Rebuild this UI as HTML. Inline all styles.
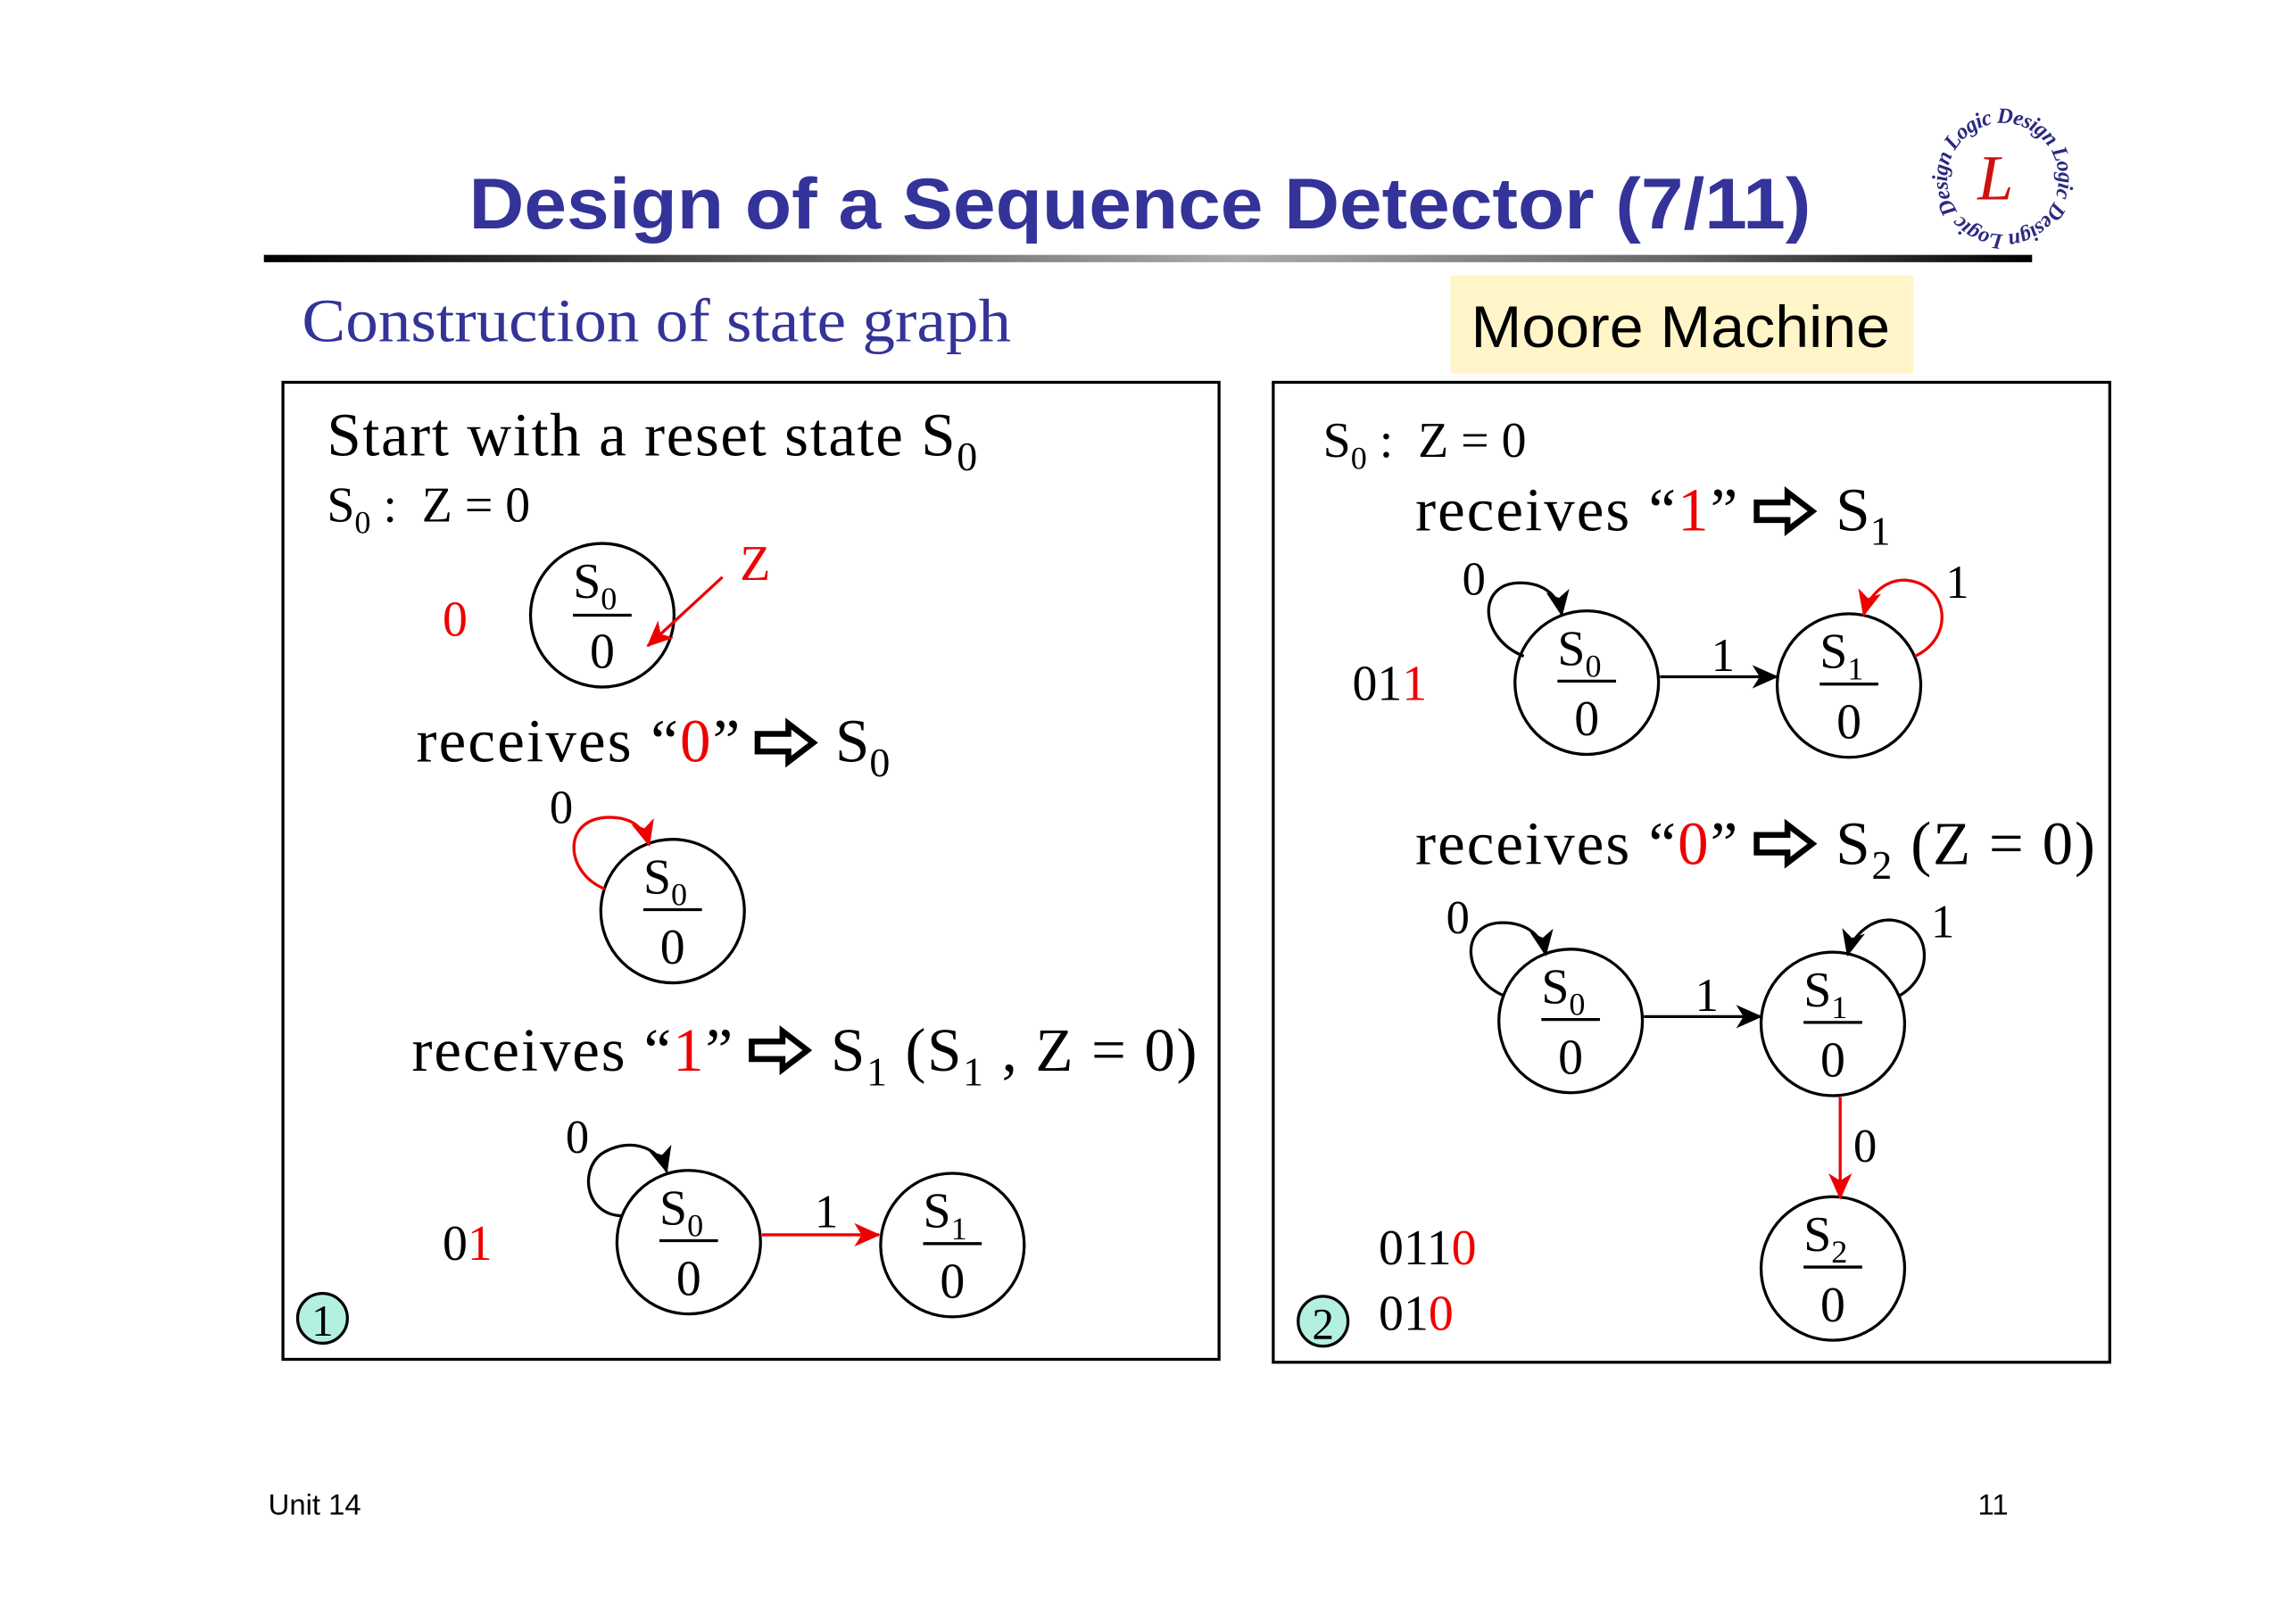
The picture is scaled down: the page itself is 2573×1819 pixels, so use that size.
<!DOCTYPE html>
<html><head><meta charset="utf-8"><style>
html,body{margin:0;padding:0;background:#fff;}
svg{display:block;}
.t{font-family:"Liberation Serif",serif;}
</style></head><body>
<svg width="2573" height="1819" viewBox="0 0 1567 1108" xmlns="http://www.w3.org/2000/svg" class="t">
<defs>
<linearGradient id="g" x1="0" x2="1" y1="0" y2="0">
<stop offset="0" stop-color="#000"/><stop offset="0.55" stop-color="#aaa"/><stop offset="0.8" stop-color="#666"/><stop offset="1" stop-color="#000"/>
</linearGradient>
<marker id="abL" markerWidth="18" markerHeight="18" refX="17" refY="9" orient="auto" markerUnits="userSpaceOnUse" viewBox="0 0 18 18"><path d="M0,1 L18,9 L0,17 L5,9 Z" fill="#000"/></marker>
<marker id="arL" markerWidth="18" markerHeight="18" refX="17" refY="9" orient="auto" markerUnits="userSpaceOnUse" viewBox="0 0 18 18"><path d="M0,1 L18,9 L0,17 L5,9 Z" fill="#e00"/></marker>
<g id="ha"><path d="M1,-6 H22 V-13 L39,0 L22,13 V6 H1 Z" fill="#fff" stroke="#000" stroke-width="4" stroke-linejoin="miter"/></g>
<path id="lc" d="M1367,160 A38,38 0 1,1 1367.1,160"/>
</defs>

<text x="320" y="156" font-family="Liberation Sans, sans-serif" font-weight="bold" font-size="49" fill="#333399" textLength="916" lengthAdjust="spacingAndGlyphs">Design of a Sequence Detector (7/11)</text>
<rect x="180" y="174" width="1207" height="5" fill="url(#g)"/>
<text font-size="15" font-style="italic" fill="#2a2a80" font-weight="bold"><textPath href="#lc" textLength="235">Logic Design Logic Design Logic Design</textPath></text>
<text x="1362" y="136" font-size="44" font-style="italic" fill="#cc1111" text-anchor="middle">L</text>

<text x="206" y="233" font-size="42" fill="#333399" textLength="484" lengthAdjust="spacingAndGlyphs">Construction of state graph</text>
<rect x="990" y="188" width="316" height="67" fill="#fff5c8"/>
<text x="1004" y="237" font-size="40" fill="#000" font-family="Liberation Sans, sans-serif" textLength="286" lengthAdjust="spacingAndGlyphs">Moore Machine</text>

<rect x="193" y="261" width="639" height="667" fill="none" stroke="#000" stroke-width="2"/>
<rect x="869" y="261" width="571" height="669" fill="none" stroke="#000" stroke-width="2"/>

<!-- LEFT -->
<text x="223" y="311" font-size="42" textLength="444" lengthAdjust="spacing">Start with a reset state S<tspan font-size="28" dy="10">0</tspan></text>
<text x="223" y="356" font-size="34" xml:space="preserve">S<tspan font-size="22" dy="8">0</tspan><tspan dy="-8"> :  Z = 0</tspan></text>

<g fill="none" stroke="#000" stroke-width="2">
<circle cx="411" cy="420" r="49"/><line x1="391" y1="420" x2="431" y2="420"/>
<circle cx="459" cy="622" r="49"/><line x1="439" y1="621" x2="479" y2="621"/>
<circle cx="470" cy="848" r="49"/><line x1="450" y1="847" x2="490" y2="847"/>
<circle cx="650" cy="850" r="49"/><line x1="630" y1="849" x2="670" y2="849"/>
</g>
<g font-size="34" text-anchor="middle">
<text x="406" y="408">S<tspan font-size="22" dy="8">0</tspan></text><text x="411" y="456">0</text>
<text x="454" y="610">S<tspan font-size="22" dy="8">0</tspan></text><text x="459" y="658">0</text>
<text x="465" y="836">S<tspan font-size="22" dy="8">0</tspan></text><text x="470" y="884">0</text>
<text x="645" y="838">S<tspan font-size="22" dy="8">1</tspan></text><text x="650" y="886">0</text>
</g>
<text x="302" y="434" font-size="34" fill="#e00">0</text>
<text x="505" y="396" font-size="34" fill="#e00">Z</text>
<line x1="493" y1="394" x2="442" y2="441" stroke="#e00" stroke-width="2" marker-end="url(#arL)"/>

<text x="284" y="520" font-size="42" textLength="221" lengthAdjust="spacing">receives “<tspan fill="#e00">0</tspan>”</text>
<use href="#ha" x="516" y="507"/>
<text x="570" y="520" font-size="42">S<tspan font-size="28" dy="10">0</tspan></text>
<text x="375" y="562" font-size="32">0</text>
<path d="M413,607 C385,596 383,558 416,558 C432,558 440,566 443,577" fill="none" stroke="#e00" stroke-width="2" marker-end="url(#arL)"/>

<text x="281" y="731" font-size="42" textLength="219" lengthAdjust="spacing">receives “<tspan fill="#e00">1</tspan>”</text>
<use href="#ha" x="512" y="717"/>
<text x="567" y="731" font-size="42" textLength="250" lengthAdjust="spacing">S<tspan font-size="28" dy="10">1</tspan><tspan dy="-10"> (S</tspan><tspan font-size="28" dy="10">1</tspan><tspan dy="-10"> , Z = 0)</tspan></text>
<text x="386" y="787" font-size="32">0</text>
<path d="M425,830 C400,830 395,800 410,788 C428,776 450,782 455,800" fill="none" stroke="#000" stroke-width="2" marker-end="url(#abL)"/>
<line x1="520" y1="843" x2="600" y2="843" stroke="#e00" stroke-width="2" marker-end="url(#arL)"/>
<text x="556" y="838" font-size="32">1</text>
<text x="302" y="860" font-size="34">0<tspan fill="#e00">1</tspan></text>
<circle cx="220" cy="900" r="17" fill="#b3f0e0" stroke="#000" stroke-width="2"/>
<text x="220" y="912" font-size="30" text-anchor="middle">1</text>

<!-- RIGHT -->
<text x="903" y="312" font-size="34" xml:space="preserve">S<tspan font-size="22" dy="8">0</tspan><tspan dy="-8"> :  Z = 0</tspan></text>
<text x="966" y="362" font-size="42" textLength="220" lengthAdjust="spacing">receives “<tspan fill="#e00">1</tspan>”</text>
<use href="#ha" x="1198" y="349"/>
<text x="1253" y="362" font-size="42">S<tspan font-size="28" dy="10">1</tspan></text>

<g fill="none" stroke="#000" stroke-width="2">
<circle cx="1083" cy="466" r="49"/><line x1="1063" y1="465" x2="1103" y2="465"/>
<circle cx="1262" cy="468" r="49"/><line x1="1242" y1="467" x2="1282" y2="467"/>
<circle cx="1072" cy="697" r="49"/><line x1="1052" y1="696" x2="1092" y2="696"/>
<circle cx="1251" cy="699" r="49"/><line x1="1231" y1="698" x2="1271" y2="698"/>
<circle cx="1251" cy="866" r="49"/><line x1="1231" y1="865" x2="1271" y2="865"/>
</g>
<g font-size="34" text-anchor="middle">
<text x="1078" y="454">S<tspan font-size="22" dy="8">0</tspan></text><text x="1083" y="502">0</text>
<text x="1257" y="456">S<tspan font-size="22" dy="8">1</tspan></text><text x="1262" y="504">0</text>
<text x="1067" y="685">S<tspan font-size="22" dy="8">0</tspan></text><text x="1072" y="733">0</text>
<text x="1246" y="687">S<tspan font-size="22" dy="8">1</tspan></text><text x="1251" y="735">0</text>
<text x="1246" y="854">S<tspan font-size="22" dy="8">2</tspan></text><text x="1251" y="902">0</text>
</g>
<text x="998" y="406" font-size="32">0</text>
<path d="M1040,448 C1010,436 1008,400 1035,398 C1055,397 1064,408 1066,420" fill="none" stroke="#000" stroke-width="2" marker-end="url(#abL)"/>
<line x1="1133" y1="462" x2="1213" y2="462" stroke="#000" stroke-width="2" marker-end="url(#abL)"/>
<text x="1168" y="458" font-size="32">1</text>
<path d="M1307,448 C1335,435 1330,398 1300,396 C1285,396 1275,408 1272,420" fill="none" stroke="#e00" stroke-width="2" marker-end="url(#arL)"/>
<text x="1328" y="408" font-size="32">1</text>
<text x="923" y="478" font-size="34">01<tspan fill="#e00">1</tspan></text>

<text x="966" y="590" font-size="42" textLength="220" lengthAdjust="spacing">receives “<tspan fill="#e00">0</tspan>”</text>
<use href="#ha" x="1198" y="576"/>
<text x="1253" y="590" font-size="42" textLength="177" lengthAdjust="spacing">S<tspan font-size="28" dy="10">2</tspan><tspan dy="-10"> (Z = 0)</tspan></text>

<text x="987" y="637" font-size="32">0</text>
<path d="M1027,680 C998,668 996,632 1023,630 C1043,629 1053,640 1055,652" fill="none" stroke="#000" stroke-width="2" marker-end="url(#abL)"/>
<line x1="1122" y1="694" x2="1202" y2="694" stroke="#000" stroke-width="2" marker-end="url(#abL)"/>
<text x="1157" y="690" font-size="32">1</text>
<path d="M1296,680 C1322,665 1318,630 1290,628 C1275,628 1264,640 1261,652" fill="none" stroke="#000" stroke-width="2" marker-end="url(#abL)"/>
<text x="1318" y="640" font-size="32">1</text>
<line x1="1256" y1="749" x2="1256" y2="818" stroke="#e00" stroke-width="2" marker-end="url(#arL)"/>
<text x="1265" y="793" font-size="32">0</text>
<text x="941" y="863" font-size="34">011<tspan fill="#e00">0</tspan></text>
<text x="941" y="908" font-size="34">01<tspan fill="#e00">0</tspan></text>
<circle cx="903" cy="902" r="17" fill="#b3f0e0" stroke="#000" stroke-width="2"/>
<text x="903" y="914" font-size="30" text-anchor="middle">2</text>

<text x="183" y="1034" font-family="Liberation Sans, sans-serif" font-size="20">Unit 14</text>
<text x="1350" y="1034" font-family="Liberation Sans, sans-serif" font-size="20">11</text>
</svg>
</body></html>
